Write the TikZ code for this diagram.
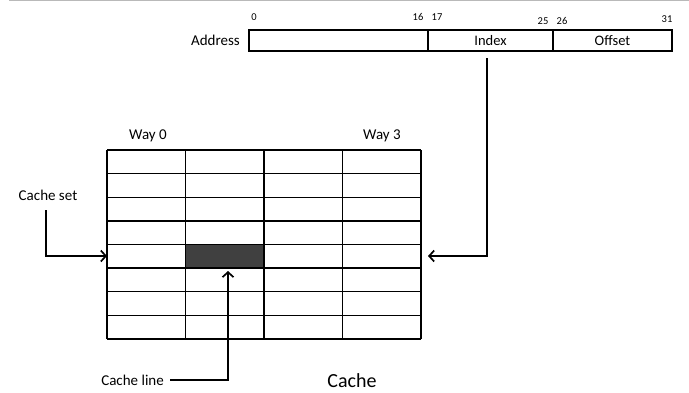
\documentclass[tikz,border=0pt]{standalone}
\usepackage{fontspec}
\setmainfont{Carlito}
\usetikzlibrary{arrows.meta}
\begin{document}
\begin{tikzpicture}[x=1pt,y=-1pt,
  field/.style={draw,line width=1.3pt,minimum height=21pt,inner sep=0pt,font=\fontsize{14.5}{16}\selectfont},
  lbl/.style={inner sep=0pt,font=\fontsize{15}{17}\selectfont},
  num/.style={inner sep=0pt,font=\fontsize{10.5}{12}\selectfont},
  grid/.style={line width=1.3pt},
  arr/.style={line width=1.9pt,-{Straight Barb[length=5pt,width=11pt,line width=1.7pt]}}]
\useasboundingbox (0,0) rectangle (689,392);
\draw[gray!55,line width=1.2pt] (9,0.8) -- (689,0.8);
% address
\node[field,minimum width=179pt] (f0) at (338.5,40.5) {};
\node[field,minimum width=125pt] (f1) at (490.5,40.5) {Index};
\node[field,minimum width=119pt] (f2) at (612.5,40.5) {Offset};
\node[lbl,anchor=east] (addr) at (240,40) {Address};
\node[num] (n0) at (254,17) {0};
\node[num] (n16) at (418,17) {16};
\node[num] (n17) at (437,17) {17};
\node[num] (n25) at (543,21) {25};
\node[num] (n26) at (562,21) {26};
\node[num] (n31) at (667,19) {31};
% cache grid
\node[fill=black!75,minimum width=78.6pt,minimum height=23.6pt,inner sep=0pt] (cl) at (225,256) {};
\foreach \y in {150,173.6,197.2,220.9,244.5,268.1,291.7,315.4,339}
  \draw[grid] (107,\y) -- (421,\y);
\foreach \x in {107,185.5,264,342.5,421}
  \draw[grid] (\x,150) -- (\x,339);
\coordinate (rowL) at (107,256);
\coordinate (rowR) at (428,256);
\node[lbl] (w0) at (148,136) {Way 0};
\node[lbl] (w3) at (382,136) {Way 3};
% cache set
\node[lbl] (cs) at (48,195) {Cache set};
\coordinate (csa) at (46,210);
\draw[arr] (csa) |- (rowL);
% index arrow
\coordinate (ia) at (487,58);
\draw[arr] (ia) |- (rowR);
% cache line
\node[lbl,anchor=east] (cln) at (164,380) {Cache line};
\coordinate (cla) at (228,271);
\draw[arr] ([xshift=6pt]cln.east) -| (cla);
\node[inner sep=0pt,font=\fontsize{20}{24}\selectfont] (cache) at (352,381) {Cache};
\end{tikzpicture}
\end{document}
